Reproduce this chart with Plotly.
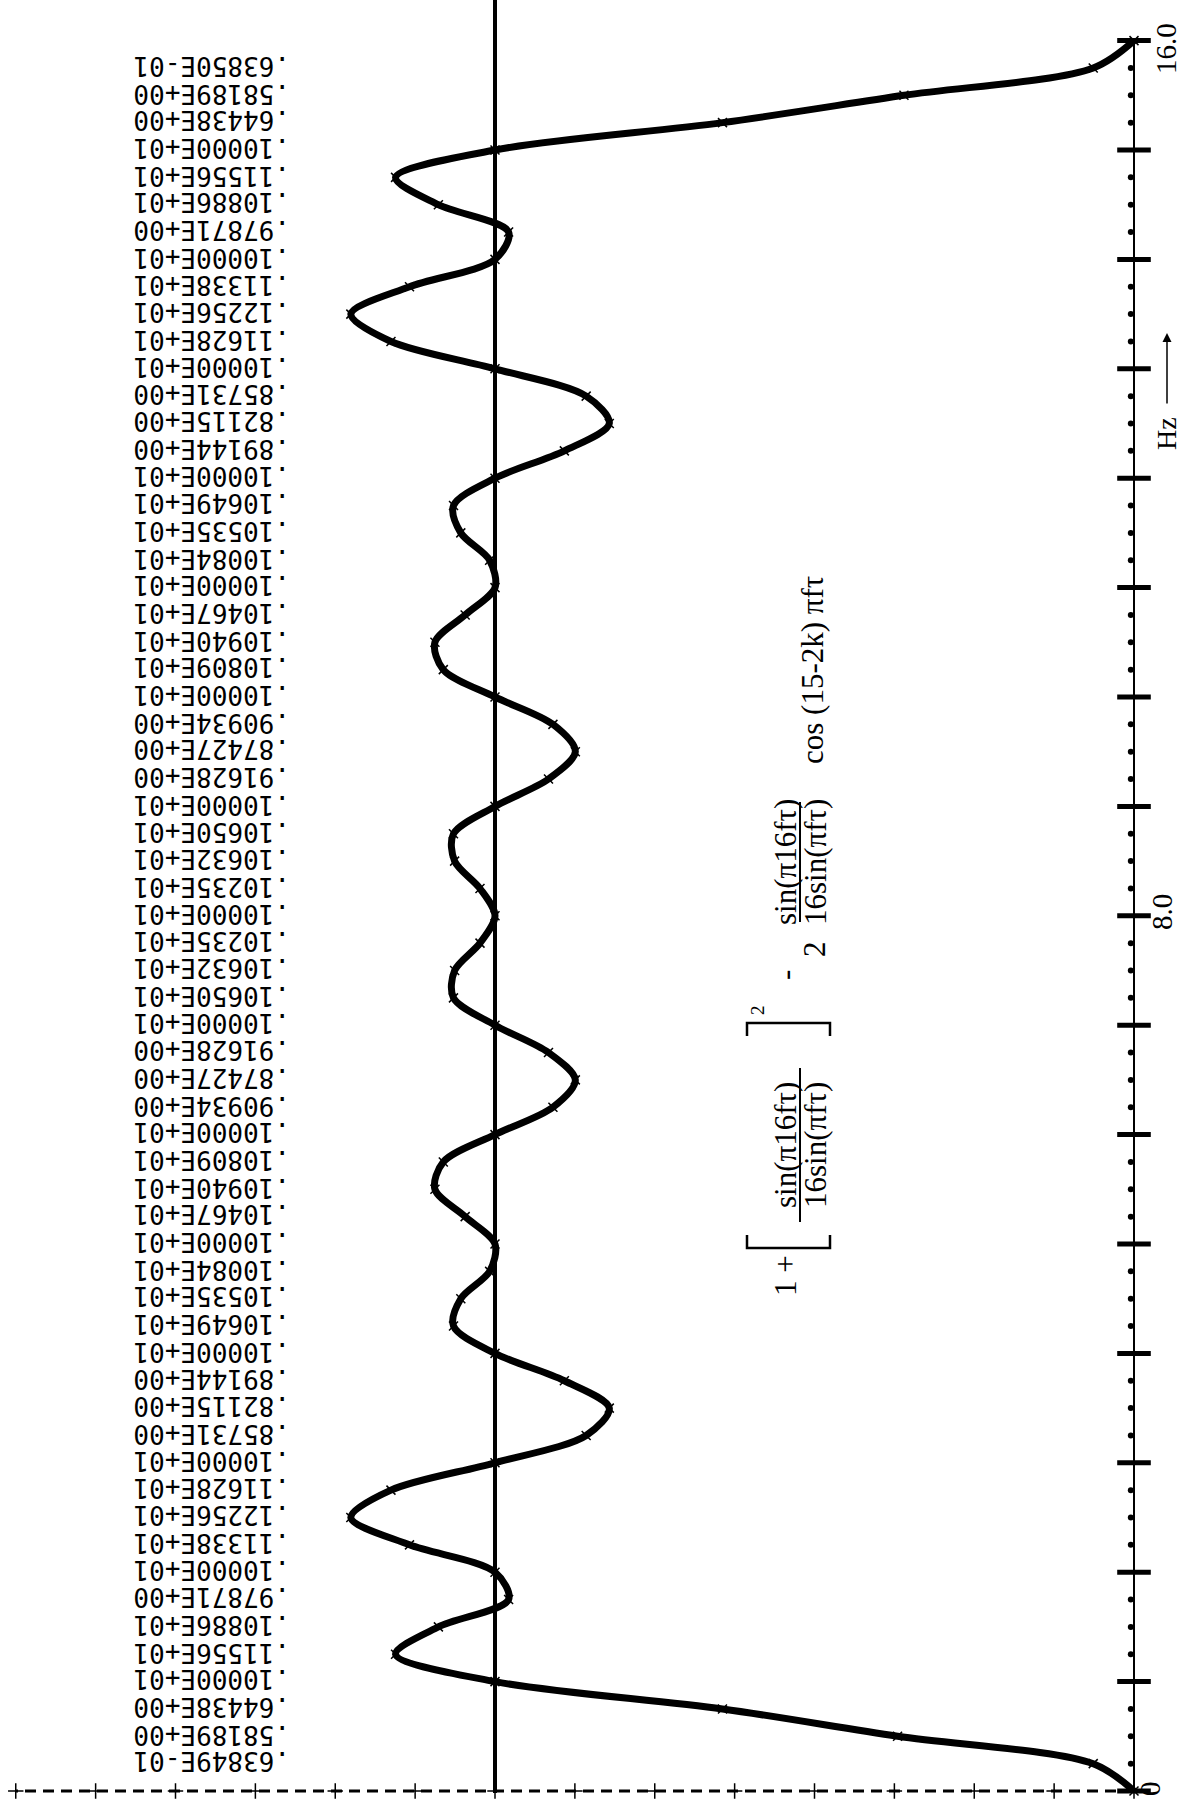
import plotly.graph_objects as go

# ---------------- data ----------------
# frequency grid (Hz), 0 .. 16 in 0.25 Hz steps
frequencies = [i * 0.25 for i in range(65)]

# amplitude of the hand-drawn curve (f = 0 .. 16)
curve_values = [
    0.0, 0.0638, 0.37, 0.644, 1.0, 1.1556, 1.0886, 0.97871,
    1.0, 1.1338, 1.2256, 1.1628, 1.0, 0.85731, 0.82115, 0.89144,
    1.0, 1.0649, 1.0535, 1.0084, 1.0, 1.0467, 1.0940, 1.0809,
    1.0, 0.90934, 0.87427, 0.91628, 1.0, 1.0650, 1.0632, 1.0235,
    1.0,
    1.0235, 1.0632, 1.0650, 1.0, 0.91628, 0.87427, 0.90934, 1.0,
    1.0809, 1.0940, 1.0467, 1.0, 1.0084, 1.0535, 1.0649, 1.0,
    0.89144, 0.82115, 0.85731, 1.0, 1.1628, 1.2256, 1.1338, 1.0,
    0.97871, 1.0886, 1.1556, 1.0, 0.644, 0.36, 0.0638, 0.0,
]

# printed value column, top (15.75 Hz) to bottom (0.25 Hz)
printed_values = [
    ".63850E-01", ".58189E+00", ".64438E+00", ".10000E+01", ".11556E+01",
    ".10886E+01", ".97871E+00", ".10000E+01", ".11338E+01", ".12256E+01",
    ".11628E+01", ".10000E+01", ".85731E+00", ".82115E+00", ".89144E+00",
    ".10000E+01", ".10649E+01", ".10535E+01", ".10084E+01", ".10000E+01",
    ".10467E+01", ".10940E+01", ".10809E+01", ".10000E+01", ".90934E+00",
    ".87427E+00", ".91628E+00", ".10000E+01", ".10650E+01", ".10632E+01",
    ".10235E+01", ".10000E+01", ".10235E+01", ".10632E+01", ".10650E+01",
    ".10000E+01", ".91628E+00", ".87427E+00", ".90934E+00", ".10000E+01",
    ".10809E+01", ".10940E+01", ".10467E+01", ".10000E+01", ".10084E+01",
    ".10535E+01", ".10649E+01", ".10000E+01", ".89144E+00", ".82115E+00",
    ".85731E+00", ".10000E+01", ".11628E+01", ".12256E+01", ".11338E+01",
    ".10000E+01", ".97871E+00", ".10886E+01", ".11556E+01", ".10000E+01",
    ".64438E+00", ".58189E+00", ".63849E-01",
]
printed_freqs = [15.75 - 0.25 * i for i in range(len(printed_values))]

major_hz = list(range(0, 17))
minor_hz = [f for f in frequencies if f != int(f)]
amp_ticks = [i * 0.125 for i in range(15)]   # 0 .. 1.75
hz_labels = ["0", "8.0", "16.0"]

# ---------------- layout constants ----------------
W, H = 1185, 1802
X0_PX, X_PER_UNIT = 1134, 639
Y0_PX, Y_PER_HZ = 1791, 109.4


def px(x):
    return x / W


def py(y):
    return 1 - y / H


xrange = [X0_PX / X_PER_UNIT, (X0_PX - W) / X_PER_UNIT]
yrange = [(Y0_PX - H) / Y_PER_HZ, Y0_PX / Y_PER_HZ]

fig = go.Figure()

# right (frequency) axis ticks
fig.add_trace(go.Scatter(
    x=[0] * len(major_hz), y=major_hz, mode="markers", hoverinfo="skip",
    marker=dict(symbol="line-ew", size=24, line=dict(width=5, color="black")),
))
fig.add_trace(go.Scatter(
    x=[0.005] * len(minor_hz), y=minor_hz, mode="markers", hoverinfo="skip",
    marker=dict(symbol="circle", size=6, color="black"),
))
# amplitude axis crosses along the dashed base line
fig.add_trace(go.Scatter(
    x=amp_ticks, y=[0] * len(amp_ticks), mode="markers", hoverinfo="skip",
    marker=dict(symbol="cross-thin", size=11, line=dict(width=1.5, color="black")),
))
# the curve
fig.add_trace(go.Scatter(
    x=curve_values, y=frequencies, mode="lines+markers",
    line=dict(color="black", width=7, shape="spline", smoothing=0.9),
    marker=dict(symbol="x-thin", size=9, line=dict(width=1.5, color="black")),
))

shapes = [
    # unity reference line
    dict(type="line", xref="x", yref="paper", x0=1, x1=1, y0=py(1793), y1=1,
         line=dict(color="black", width=4)),
    # frequency axis
    dict(type="line", xref="x", yref="y", x0=0, x1=0, y0=0, y1=16,
         line=dict(color="black", width=2)),
    # dashed amplitude base line
    dict(type="line", xref="x", yref="y", x0=0, x1=amp_ticks[-1], y0=0, y1=0,
         line=dict(color="black", width=3, dash="11px,7px")),
]


def path(points):
    return "M " + " L ".join(f"{px(a):.5f},{py(b):.5f}" for a, b in points)


# formula brackets
shapes.append(dict(type="path", xref="paper", yref="paper",
                   path=path([(747, 1235), (747, 1248), (830, 1248), (830, 1235)]),
                   line=dict(color="black", width=2.5)))
shapes.append(dict(type="path", xref="paper", yref="paper",
                   path=path([(747, 1036), (747, 1023), (830, 1023), (830, 1036)]),
                   line=dict(color="black", width=2.5)))
# fraction bars
for y0, y1 in [(1068, 1222), (802, 922)]:
    shapes.append(dict(type="line", xref="paper", yref="paper",
                       x0=px(800), x1=px(800), y0=py(y0), y1=py(y1),
                       line=dict(color="black", width=2)))

annotations = []
for f, txt in zip(printed_freqs, printed_values):
    annotations.append(dict(
        x=px(292), y=f, xref="paper", yref="y", text=txt, showarrow=False,
        textangle=180, xanchor="right", yanchor="middle", yshift=2,
        font=dict(family="DejaVu Sans Mono", size=26, color="black"),
    ))

hz_label_px = [(1150, 1789), (1162, 912), (1166, 49)]
for txt, (x, y) in zip(hz_labels, hz_label_px):
    annotations.append(dict(
        x=px(x), y=py(y), xref="paper", yref="paper", text=txt, showarrow=False,
        textangle=-90, xanchor="center", yanchor="middle",
        font=dict(family="Liberation Serif", size=29, color="black"),
    ))

annotations.append(dict(
    x=px(1166), y=py(434), xref="paper", yref="paper", text="Hz", showarrow=False,
    textangle=-90, xanchor="center", yanchor="middle",
    font=dict(family="Liberation Serif", size=28, color="black"),
))
annotations.append(dict(
    x=px(1167), y=py(333), xref="paper", yref="paper", text="", showarrow=True,
    ax=0, ay=72, arrowhead=2, arrowsize=1.2, arrowwidth=1.5, arrowcolor="black",
    standoff=0, startstandoff=0,
))

serif = "Liberation Serif"
formula_parts = [
    ("1 +", 785, 1276, 31),
    ("sin(π16fτ)", 785, 1145, 31),
    ("16sin(πfτ)", 815, 1145, 31),
    ("2", 757, 1010, 19),
    ("-", 785, 975, 31),
    ("2", 814, 949, 31),
    ("sin(π16fτ)", 785, 862, 31),
    ("16sin(πfτ)", 815, 862, 31),
    ("cos (15-2k) πfτ", 812, 670, 31),
]
for txt, x, y, s in formula_parts:
    annotations.append(dict(
        x=px(x), y=py(y), xref="paper", yref="paper", text=txt, showarrow=False,
        textangle=-90, xanchor="center", yanchor="middle",
        font=dict(family=serif, size=s, color="black"),
    ))

fig.update_layout(
    width=W, height=H, margin=dict(l=0, r=0, t=0, b=0),
    paper_bgcolor="white", plot_bgcolor="white", showlegend=False,
    xaxis=dict(range=xrange, visible=False, fixedrange=True),
    yaxis=dict(range=yrange, visible=False, fixedrange=True),
    shapes=shapes, annotations=annotations,
)

fig.write_html(
    "out.html",
    config={"displayModeBar": False},
    post_script="document.body.style.margin='0';document.body.style.overflow='hidden';",
)
